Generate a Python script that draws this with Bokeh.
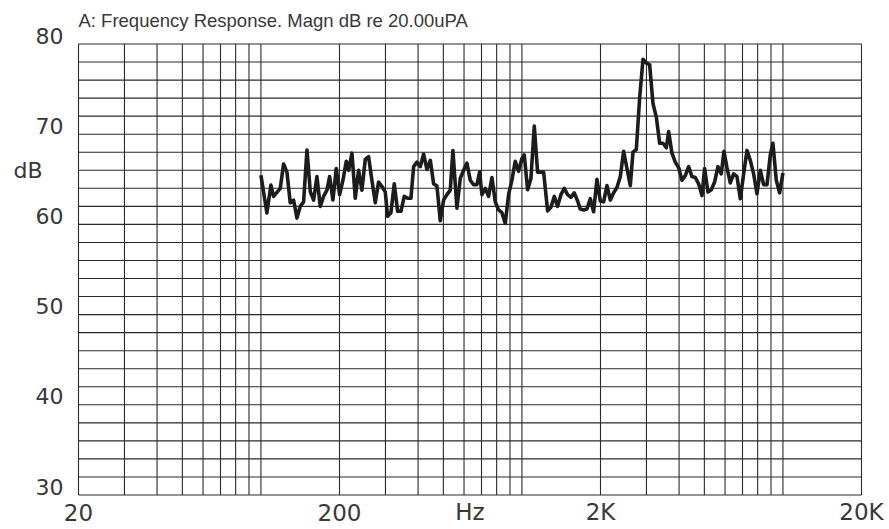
from bokeh.plotting import figure
from bokeh.models import Range1d
from bokeh.embed import file_html
from bokeh.resources import INLINE
from bokeh.core.properties import value

# ---------------- data ----------------
freq_hz = [
    100.0, 105.4, 109.2, 111.8, 118.6, 122.1, 125.8, 129.5, 133.4, 137.4,
    141.5, 145.7, 150.1, 154.6, 159.2, 163.9, 168.8, 173.8, 179.0, 183.3,
    188.7, 194.4, 200.2, 206.2, 212.3, 216.7, 223.2, 229.8, 236.7, 243.8,
    251.0, 258.5, 266.2, 274.2, 282.3, 290.8, 299.5, 305.7, 314.8, 324.2,
    333.9, 343.9, 354.1, 364.7, 375.6, 384.6, 396.0, 407.8, 420.1, 432.5,
    445.6, 458.8, 472.5, 486.6, 501.1, 516.0, 531.4, 544.0, 563.6, 580.4,
    597.7, 615.5, 633.9, 652.8, 672.3, 688.3, 702.6, 723.6, 745.2, 767.4,
    790.3, 813.9, 838.1, 863.1, 888.9, 915.4, 942.7, 970.8, 1000.0,
    1020.8, 1051.3, 1082.6, 1115.0, 1148.3, 1182.6, 1210.8, 1254.3, 1291.5, 1330.1,
    1369.8, 1410.7, 1452.8, 1496.2, 1540.9, 1586.9, 1634.3, 1673.2, 1723.1, 1774.6,
    1827.6, 1882.2, 1938.4, 1996.3, 2055.9, 2117.3, 2180.6, 2245.7, 2312.7, 2381.8,
    2452.9, 2526.2, 2601.6, 2663.5, 2742.9, 2824.8, 2909.2, 2996.1, 3085.6, 3177.8,
    3272.6, 3370.3, 3471.0, 3574.8, 3648.0, 3756.5, 3868.9, 3984.4, 4103.5, 4226.0,
    4352.2, 4482.2, 4616.1, 4754.0, 4896.2, 5011.5, 5160.4, 5314.6, 5473.2, 5636.4,
    5804.6, 5942.5, 6103.9, 6285.4, 6473.5, 6666.6, 6866.0, 7071.0, 7281.9, 7499.2,
    7722.4, 7953.0, 8190.8, 8434.3, 8686.3, 8945.6, 9154.0, 9429.6, 9710.4, 10000.0,
]
magn_db = [
    65.45, 61.27, 64.36, 63.1, 64.0, 66.7, 65.8, 62.4, 62.7, 60.7,
    62.0, 62.5, 68.25, 63.6, 62.7, 65.3, 62.0, 63.1, 63.8, 65.3,
    62.7, 66.2, 63.3, 64.9, 67.0, 66.0, 67.9, 62.9, 66.0, 63.8,
    67.2, 67.5, 64.9, 62.4, 64.7, 64.2, 63.6, 60.9, 61.3, 64.5,
    61.45, 61.45, 63.1, 62.9, 62.9, 66.4, 66.9, 66.4, 67.8, 66.1,
    67.1, 64.5, 64.25, 60.4, 62.7, 63.3, 63.8, 68.2, 61.8, 65.1,
    66.0, 66.8, 64.9, 64.4, 64.4, 65.8, 63.3, 64.0, 63.1, 65.2,
    62.5, 61.6, 61.3, 60.1, 63.3, 64.9, 67.0, 65.9, 67.3,
    67.7, 63.85, 65.1, 70.9, 65.8, 65.8, 65.8, 61.5, 61.9, 63.1,
    62.0, 63.3, 64.0, 63.3, 63.0, 63.5, 62.6, 61.7, 61.6, 61.7,
    62.85, 61.4, 65.0, 62.6, 62.5, 64.3, 62.7, 63.5, 64.1, 65.3,
    68.1, 66.2, 64.3, 68.0, 68.3, 74.0, 78.3, 77.9, 77.7, 73.4,
    71.9, 69.0, 69.0, 68.5, 70.3, 67.9, 66.9, 66.3, 64.9, 65.4,
    66.4, 65.3, 65.2, 64.5, 63.2, 66.2, 63.6, 63.85, 64.7, 66.4,
    65.6, 68.1, 66.3, 64.6, 65.6, 65.3, 62.85, 65.6, 68.2, 67.1,
    65.6, 63.4, 66.0, 64.4, 64.4, 67.7, 69.0, 64.9, 63.5, 65.7,
]

x_min, x_max = 20, 20000
y_min, y_max = 30, 80
x_tick_values = [20, 200, 2000, 20000]
x_tick_labels = ["20", "200", "2K", "20K"]
y_tick_values = [80, 70, 60, 50, 40, 30]
y_tick_labels = ["80", "70", "60", "50", "40", "30"]
x_grid_values = [20, 30, 40, 50, 60, 70, 80, 90, 100,
                 200, 300, 400, 500, 600, 700, 800, 900, 1000,
                 2000, 3000, 4000, 5000, 6000, 7000, 8000, 9000, 10000, 20000]
y_grid_values = [30, 32, 34, 36, 38, 40, 42, 44, 46, 48, 50, 52, 54, 56, 58,
                 60, 62, 64, 66, 68, 70, 72, 74, 76, 78, 80]
title_text = "A: Frequency Response. Magn dB re 20.00uPA"
x_name = "Hz"
x_name_pos = 632.5
y_name = "dB"
y_name_pos = 66

# ---------------- layout (pixels) ----------------
W, H = 885, 525
BOX_L, BOX_R, BOX_T, BOX_B = 78.0, 861.0, 43.5, 494.5
px_per_dec = (BOX_R - BOX_L) / 3.0
px_per_db = (BOX_B - BOX_T) / (y_max - y_min)
x_start = x_min * 10 ** (-BOX_L / px_per_dec)
x_end = x_max * 10 ** ((W - BOX_R) / px_per_dec)
y_end = y_max + BOX_T / px_per_db
y_start = y_min - (H - BOX_B) / px_per_db

p = figure(x_axis_type="log", x_range=Range1d(x_start, x_end),
           y_range=Range1d(y_start, y_end), width=W, height=H,
           output_backend="svg", toolbar_location=None,
           background_fill_color="white", border_fill_color="white")
p.min_border = 0
p.min_border_left = p.min_border_right = p.min_border_top = p.min_border_bottom = 0
p.xaxis.visible = False
p.yaxis.visible = False
p.grid.visible = False
p.outline_line_color = None

GRID = "#2a2a2a"
# vertical grid lines (log frequencies) and horizontal grid lines (dB)
p.segment(x0=x_grid_values, y0=[y_min] * len(x_grid_values),
          x1=x_grid_values, y1=[y_max] * len(x_grid_values),
          line_color=GRID, line_width=1.1)
p.segment(x0=[x_min] * len(y_grid_values), y0=y_grid_values,
          x1=[x_max] * len(y_grid_values), y1=y_grid_values,
          line_color=GRID, line_width=1.1)

p.line(freq_hz, magn_db, line_color="#1c1c1c", line_width=3.6, line_join="round")

TXT = "#383838"
FONT = value("DejaVu Sans")

p.text(x=[x_min] * len(y_tick_values), y=y_tick_values, text=y_tick_labels,
       x_offset=-15, y_offset=-8.5, text_align="right", text_baseline="middle",
       text_font=FONT, text_font_size="22px", text_color=TXT)
p.text(x=x_tick_values, y=[y_min] * len(x_tick_values), text=x_tick_labels,
       x_offset=0, y_offset=17, text_align="center", text_baseline="middle",
       text_font=FONT, text_font_size="23px", text_color=TXT)
p.text(x=[x_name_pos], y=[y_min], text=[x_name], x_offset=0, y_offset=17,
       text_align="center", text_baseline="middle",
       text_font=FONT, text_font_size="23px", text_color=TXT)
p.text(x=[x_min], y=[y_name_pos], text=[y_name], x_offset=-36, y_offset=0,
       text_align="right", text_baseline="middle",
       text_font=FONT, text_font_size="22px", text_color=TXT)
p.text(x=[x_min], y=[y_max], text=[title_text], x_offset=0, y_offset=-24,
       text_align="left", text_baseline="middle",
       text_font=value("Liberation Sans"), text_font_size="18.5px", text_color=TXT)

open("out.html", "w").write(file_html(p, INLINE))
